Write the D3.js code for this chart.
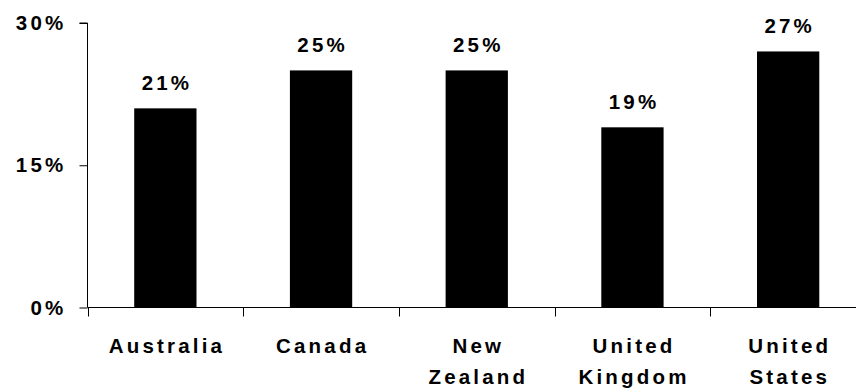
<!DOCTYPE html>
<html>
<head>
<meta charset="utf-8">
<script src="https://cdn.jsdelivr.net/npm/d3@7"></script>
<style>
  html, body { margin: 0; padding: 0; background: #fff; }
  svg { display: block; }
  text { font-family: "Liberation Sans", Arial, Helvetica, sans-serif; font-weight: bold; fill: #000; }
</style>
</head>
<body>
<svg id="chart" width="856" height="389"></svg>
<script>
// Share by country
const categories = ["Australia", "Canada", "New Zealand", "United Kingdom", "United States"];
const categoryLines = [["Australia"], ["Canada"], ["New", "Zealand"], ["United", "Kingdom"], ["United", "States"]];
const values = [0.21, 0.25, 0.25, 0.19, 0.27];
const yTicks = [0, 0.15, 0.30];
const valueLabels = ["21%", "25%", "25%", "19%", "27%"];

const svg = d3.select("#chart");
const plotLeft = 87.5, plotRight = 866, plotTop = 23, plotBottom = 307.5;
const fontSize = 20.5, spacing = 3.2;

const x = d3.scaleBand().domain(categories).range([plotLeft, plotRight]).padding(0);
const y = d3.scaleLinear().domain([0, 0.30]).range([plotBottom, plotTop]);
const barW = x.bandwidth() * 0.4;

// bars
svg.append("g").selectAll("rect")
  .data(categories)
  .join("rect")
  .attr("x", (d) => x(d) + (x.bandwidth() - barW) / 2)
  .attr("y", (d, i) => y(values[i]))
  .attr("width", barW)
  .attr("height", (d, i) => y(0) - y(values[i]))
  .attr("fill", "#000");

// value labels above bars
svg.append("g").selectAll("text")
  .data(categories)
  .join("text")
  .attr("x", (d) => x(d) + x.bandwidth() / 2 + spacing / 2)
  .attr("y", (d, i) => y(values[i]) - 18)
  .attr("text-anchor", "middle")
  .attr("font-size", fontSize)
  .attr("letter-spacing", spacing)
  .text((d, i) => valueLabels[i]);

// y axis
const yAxis = d3.axisLeft(y)
  .tickValues(yTicks)
  .tickSize(8)
  .tickPadding(13)
  .tickFormat(d3.format(".0%"));
const gy = svg.append("g").attr("transform", `translate(${plotLeft},0)`).call(yAxis);
gy.select(".domain").attr("stroke", "#000").attr("d", `M-8,${plotTop}H0V${plotBottom}`);
gy.selectAll(".tick line").attr("stroke", "#000");
gy.selectAll(".tick text")
  .attr("font-size", fontSize)
  .attr("letter-spacing", spacing)
  .attr("font-family", null)
  .attr("fill", "#000");

// x axis with ticks on category boundaries
const gx = svg.append("g").attr("transform", `translate(0,${plotBottom})`);
gx.append("line")
  .attr("x1", plotLeft).attr("x2", plotRight)
  .attr("y1", 0).attr("y2", 0)
  .attr("stroke", "#000");
gx.selectAll("line.sep")
  .data(categories)
  .join("line")
  .attr("class", "sep")
  .attr("x1", (d) => Math.round(x(d)) + 0.5)
  .attr("x2", (d) => Math.round(x(d)) + 0.5)
  .attr("y1", 0).attr("y2", 9)
  .attr("stroke", "#000");

// category labels, wrapped onto two lines
const labels = gx.selectAll("text.cat")
  .data(categories)
  .join("text")
  .attr("class", "cat")
  .attr("text-anchor", "middle")
  .attr("font-size", fontSize)
  .attr("letter-spacing", spacing);
labels.each(function (d, i) {
  const t = d3.select(this);
  categoryLines[i].forEach((line, j) => {
    t.append("tspan")
      .attr("x", x(d) + x.bandwidth() / 2 + spacing / 2)
      .attr("y", 45 + j * 31)
      .text(line);
  });
});
</script>
</body>
</html>
